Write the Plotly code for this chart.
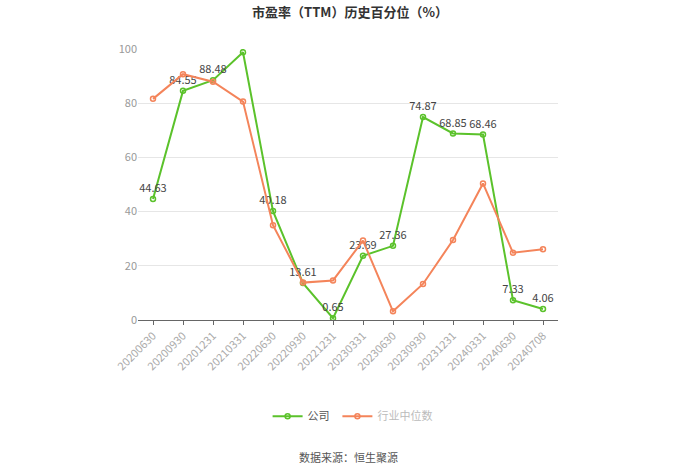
import plotly.graph_objects as go

# --- dados ---
dates = ["20200630", "20200930", "20201231", "20210331", "20220630", "20220930",
         "20221231", "20230331", "20230630", "20230930", "20231231", "20240331",
         "20240630", "20240708"]
company = [44.63, 84.55, 88.48, 98.82, 40.18, 13.61, 0.65, 23.69, 27.36,
           74.87, 68.85, 68.46, 7.33, 4.06]
industry = [81.6, 90.7, 87.9, 80.6, 35.0, 13.8, 14.6, 29.3, 3.2, 13.3,
            29.5, 50.4, 24.8, 26.1]

GREEN = "#5bc22b"
ORANGE = "#f4845a"
FONT = "Noto Sans CJK SC"

fig = go.Figure()
fig.add_trace(go.Scatter(
    x=dates, y=company, name="公司", mode="lines+markers+text",
    line=dict(color=GREEN, width=2),
    marker=dict(symbol="circle-open", size=5, color=GREEN, line=dict(width=1.5)),
    text=[f"{v:.2f}" for v in company], textposition="top center",
    textfont=dict(size=11, color="#444444", family=FONT),
    legend="legend", showlegend=True,
))
fig.add_trace(go.Scatter(
    x=dates, y=industry, name="行业中位数", mode="lines+markers",
    line=dict(color=ORANGE, width=2),
    marker=dict(symbol="circle-open", size=5, color=ORANGE, line=dict(width=1.5)),
    legend="legend2", showlegend=True,
))

fig.update_layout(
    width=700, height=474, showlegend=True,
    paper_bgcolor="white", plot_bgcolor="white",
    font=dict(family=FONT, size=11, color="#999999"),
    margin=dict(l=138, r=142, t=49, b=154, autoexpand=False),
    title=dict(text="<b>市盈率（TTM）历史百分位（%）</b>", x=0.5, xanchor="center",
               xref="container", yref="container",
               y=0.974, yanchor="middle", font=dict(size=13, color="#333333")),
    xaxis=dict(type="category", range=[-0.5, len(dates) - 0.5],
               showgrid=False, showline=True, linecolor="#666666",
               ticks="outside", ticklen=4, tickcolor="#666666", tickangle=-45,
               automargin=False, tickfont=dict(size=11, color="#aaaaaa")),
    yaxis=dict(range=[0, 100], dtick=20, showgrid=True, gridcolor="#e6e6e6",
               zeroline=False, showline=False, automargin=False,
               tickfont=dict(size=11, color="#999999")),
    legend=dict(orientation="h", xref="container", yref="container",
                x=0.478, xanchor="right", y=0.122, yanchor="middle",
                font=dict(size=11, color="#555555"), itemwidth=30),
    legend2=dict(orientation="h", xref="container", yref="container",
                 x=0.482, xanchor="left", y=0.122, yanchor="middle",
                 font=dict(size=11, color="#bbbbbb"), itemwidth=30),
    annotations=[dict(text="数据来源：恒生聚源", xref="paper", yref="paper",
                      x=0.5, y=-0.506, xanchor="center", yanchor="middle",
                      showarrow=False, font=dict(size=11, color="#555555"))],
)

fig.write_html("out.html", config={"displayModeBar": False},
               post_script="document.body.style.margin='0';")
